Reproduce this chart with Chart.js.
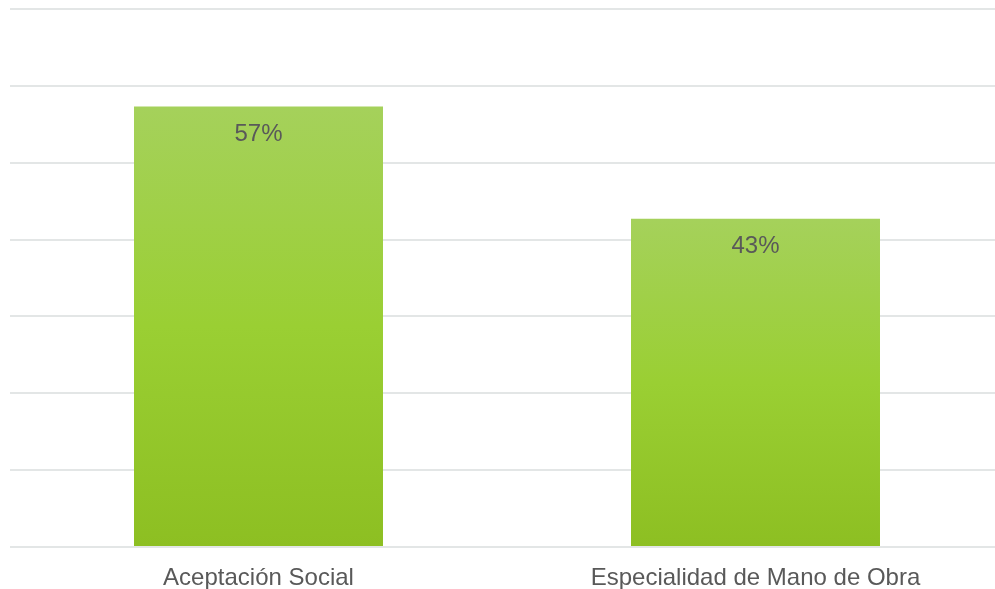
<!DOCTYPE html>
<html>
<head>
<meta charset="utf-8">
<script src="https://cdn.jsdelivr.net/npm/chart.js@4"></script>
<style>
  html, body { margin: 0; padding: 0; background: #ffffff; overflow: hidden; width: 995px; height: 589px; }
  #wrap { position: absolute; left: 0; top: 0; width: 1005px; height: 589px; }
</style>
</head>
<body>
<div id="wrap"><canvas id="c" width="1005" height="589"></canvas></div>
<script>
const categories = ["Aceptación Social", "Especialidad de Mano de Obra"];
const values = [57.3, 42.7];
const valueLabels = ["57%", "43%"];
const yTicks = [0, 10, 20, 30, 40, 50, 60, 70];

const FONT = "'Liberation Sans', Arial, sans-serif";

function barGradient(ctx) {
  const chart = ctx.chart;
  if (!chart.chartArea) return '#9acd32';
  const yScale = chart.scales.y;
  const v = ctx.raw;
  const top = yScale.getPixelForValue(v);
  const bottom = yScale.getPixelForValue(0);
  const g = chart.ctx.createLinearGradient(0, top, 0, bottom);
  g.addColorStop(0, '#a5d15b');
  g.addColorStop(0.5, '#9acf33');
  g.addColorStop(1, '#8dbf22');
  return g;
}

const labelPlugin = {
  id: 'valueLabels',
  afterDatasetsDraw(chart) {
    const c = chart.ctx;
    const meta = chart.getDatasetMeta(0);
    c.save();
    c.font = '24px ' + FONT;
    c.fillStyle = '#595959';
    c.textAlign = 'center';
    c.textBaseline = 'middle';
    meta.data.forEach((bar, i) => {
      c.fillText(valueLabels[i], bar.x, bar.y + 28);
    });
    c.restore();
  }
};

new Chart(document.getElementById('c'), {
  type: 'bar',
  data: {
    labels: categories,
    datasets: [{
      data: values,
      backgroundColor: barGradient,
      borderWidth: 0,
      barPercentage: 0.501,
      categoryPercentage: 1.0
    }]
  },
  options: {
    responsive: false,
    animation: false,
    events: [],
    layout: { padding: { left: 10, right: 1, top: 9, bottom: 0 } },
    plugins: { legend: { display: false }, tooltip: { enabled: false } },
    scales: {
      y: {
        min: yTicks[0],
        max: yTicks[yTicks.length - 1],
        afterBuildTicks(scale) { scale.ticks = yTicks.map(v => ({ value: v })); },
        ticks: { display: false },
        border: { display: false },
        grid: { color: '#e3e6e6', lineWidth: 2, drawTicks: false }
      },
      x: {
        afterFit(scale) { scale.height = 42; },
        border: { display: false },
        grid: { display: false, drawTicks: false },
        ticks: {
          color: '#595959',
          font: { family: FONT, size: 24 },
          padding: 17,
          maxRotation: 0,
          autoSkip: false
        }
      }
    }
  },
  plugins: [labelPlugin]
});
</script>
</body>
</html>
